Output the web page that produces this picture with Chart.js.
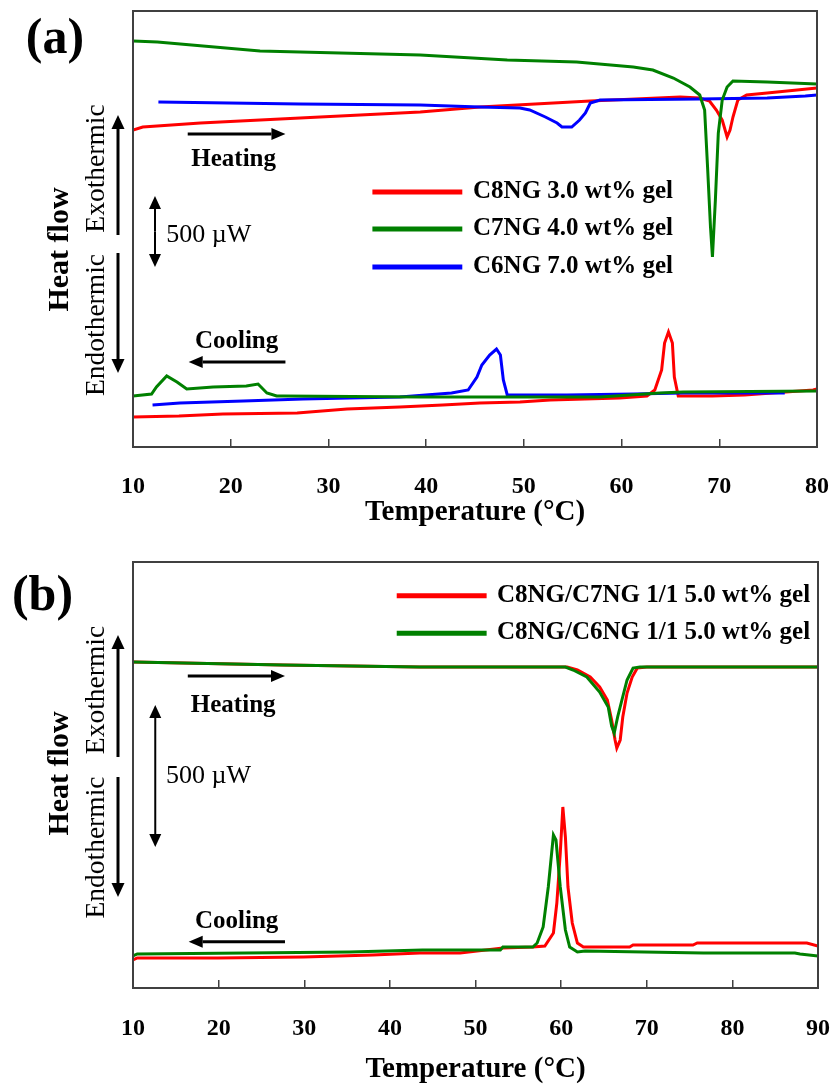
<!DOCTYPE html>
<html>
<head>
<meta charset="utf-8">
<script src="https://cdn.jsdelivr.net/npm/chart.js@4/dist/chart.umd.min.js"></script>
<style>
    body { margin: 0; background: #fff; }
    .panel { position: absolute; left: 0; width: 833px; }
    #wrap-a { top: 0; height: 548px; }
    #wrap-b { top: 548px; height: 539px; }
</style>
</head>
<body>
<div class="panel" id="wrap-a"><canvas id="chart-a"></canvas></div>
<div class="panel" id="wrap-b"><canvas id="chart-b"></canvas></div>
<script>
// --- 데이터 (그림에서 읽은 값, 열류는 임의 단위) ---
// (a) 단일 겔
const tempTicksA = [10, 20, 30, 40, 50, 60, 70, 80];
const labelsA = ["C8NG 3.0 wt% gel", "C7NG 4.0 wt% gel", "C6NG 7.0 wt% gel"];

const c8HeatT = [10, 11, 16.9, 27.1, 39.4, 45.5, 56.8, 66.0, 68.0, 69.0, 69.7, 70.3, 70.8, 71.1, 71.4, 71.9, 72.8, 74.9, 80];
const c8HeatQ = [317, 320, 324, 329, 335, 340, 346, 350, 349, 346, 337, 327, 310, 317, 330, 347, 352, 354, 359];
const c8CoolT = [80, 79.6, 72.6, 69.3, 65.8, 65.4, 65.2, 64.8, 64.4, 64.1, 63.4, 62.6, 59.8, 52.7, 49.6, 45.5, 41.7, 37.3, 31.9, 26.8, 19.2, 14.7, 10];
const c8CoolQ = [58, 57, 52, 51, 51, 70, 104, 115, 104, 77, 57, 51, 49, 47, 45, 44, 42, 40, 38, 34, 33, 31, 30];

const c7HeatT = [10, 12.5, 23.0, 39.4, 48.3, 55.4, 61.2, 63.2, 65.3, 67.0, 68.0, 68.5, 68.8, 69.1, 69.3, 69.6, 69.9, 70.3, 70.8, 71.4, 74.9, 80];
const c7HeatQ = [406, 405, 396, 392, 387, 385, 380, 377, 369, 360, 352, 337, 280, 220, 190, 247, 314, 347, 360, 366, 365, 363];
const c7CoolT = [80, 66.3, 63.9, 57.8, 39.4, 25.4, 24.7, 23.7, 22.8, 21.6, 18.2, 15.5, 14.5, 13.45, 12.4, 11.9, 10];
const c7CoolQ = [56, 55, 54, 50, 50, 51, 51, 54, 63, 61, 60, 58, 65, 71, 60, 53, 51];

const c6HeatT = [12.6, 27.1, 39.4, 45.5, 49.6, 50.6, 52.2, 53.4, 53.9, 54.9, 55.7, 56.3, 56.8, 57.8, 68.0, 74.9, 78.8, 80];
const c6HeatQ = [345, 343, 342, 340, 339, 337, 330, 324, 320, 320, 327, 334, 344, 347, 348, 349, 351, 352];
const c6CoolT = [76.7, 66.3, 61.2, 54.4, 48.3, 47.9, 47.6, 47.2, 46.5, 45.7, 45.2, 44.3, 42.6, 37.3, 32.2, 27.4, 21.3, 14.8, 12.0];
const c6CoolQ = [54, 54, 53, 52, 52, 67, 92, 98, 92, 82, 70, 57, 54, 50, 49, 48, 46, 44, 42];

// (b) 혼합 겔
const tempTicksB = [10, 20, 30, 40, 50, 60, 70, 80, 90];
const labelsB = ["C8NG/C7NG 1/1 5.0 wt% gel", "C8NG/C6NG 1/1 5.0 wt% gel"];

const mix7HeatT = [10, 27.5, 43.5, 60.7, 61.9, 63.4, 64.5, 65.4, 65.9, 66.3, 66.5, 66.9, 67.2, 67.7, 68.3, 68.9, 70.0, 90];
const mix7HeatQ = [326, 323, 321, 321, 318, 311, 301, 288, 268, 248, 240, 248, 271, 295, 311, 320, 321, 321];
const mix7CoolT = [90, 88.7, 75.9, 75.4, 68.4, 68.0, 62.6, 61.9, 61.3, 60.8, 60.5, 60.2, 59.9, 59.5, 59.1, 58.1, 56.7, 53.2, 48.2, 43.5, 38.0, 29.9, 19.9, 10.5, 10];
const mix7CoolQ = [42, 45, 45, 43, 43, 41, 41, 45, 65, 101, 151, 181, 135, 85, 55, 42, 41, 40, 35, 35, 33, 31, 30, 30, 28];

const mix6HeatT = [10, 27.5, 43.5, 60.5, 61.4, 63.0, 64.5, 65.5, 65.9, 66.2, 66.6, 67.1, 67.7, 68.4, 69.2, 90];
const mix6HeatQ = [326, 323, 321, 321, 318, 311, 296, 281, 262, 255, 271, 288, 308, 320, 321, 321];
const mix6CoolT = [90, 87.9, 87.3, 76.6, 62.8, 61.9, 61.0, 60.5, 59.9, 59.4, 59.1, 58.5, 57.9, 57.2, 56.7, 53.2, 52.9, 43.8, 35.3, 23.2, 10.5, 10];
const mix6CoolQ = [32, 34, 35, 35, 37, 36, 41, 58, 101, 148, 153, 101, 61, 45, 41, 41, 38, 38, 36, 35, 34, 32];

// --- 공통 설정 ---
const SERIF = "'Liberation Serif', 'Times New Roman', serif";
const RED = "rgb(255, 0, 0)";
const GREEN = "rgb(0, 128, 0)";
const BLUE = "rgb(0, 0, 255)";

Chart.defaults.font.family = SERIF;
Chart.defaults.color = "#000";

// 온도/열류 배열 -> {x, y} 점 배열
function curve(ts, qs) {
    return ts.map((t, i) => ({ x: t, y: qs[i] }));
}

function line(label, color, ts, qs, order, inLegend) {
    return {
        label: label,
        data: curve(ts, qs),
        borderColor: color,
        backgroundColor: color,
        borderWidth: 3,
        pointRadius: 0,
        tension: 0,
        fill: false,
        order: order,
        inLegend: inLegend
    };
}

// 화살표 (끝점에 삼각형 머리)
function arrow(ctx, x1, y1, x2, y2, w, head, half) {
    const a = Math.atan2(y2 - y1, x2 - x1);
    const bx = x2 - head * Math.cos(a);
    const by = y2 - head * Math.sin(a);
    ctx.lineWidth = w;
    ctx.beginPath();
    ctx.moveTo(x1, y1);
    ctx.lineTo(bx, by);
    ctx.stroke();
    ctx.beginPath();
    ctx.moveTo(x2, y2);
    ctx.lineTo(bx + half * Math.sin(a), by - half * Math.cos(a));
    ctx.lineTo(bx - half * Math.sin(a), by + half * Math.cos(a));
    ctx.closePath();
    ctx.fill();
}

function vText(ctx, text, x, y, font) {
    ctx.save();
    ctx.translate(x, y);
    ctx.rotate(-Math.PI / 2);
    ctx.font = font;
    ctx.textAlign = "center";
    ctx.textBaseline = "alphabetic";
    ctx.fillText(text, 0, 0);
    ctx.restore();
}

// 테두리, 범례, 주석을 그리는 플러그인
const dscNotes = {
    id: "dscNotes",
    afterDraw(chart, args, opts) {
        const { ctx, chartArea } = chart;
        const sx = chart.scales.x;
        const sy = chart.scales.y;
        const px = t => sx.getPixelForValue(t);
        const py = q => sy.getPixelForValue(q);

        ctx.save();
        ctx.fillStyle = "#000";

        // 그래프 테두리
        ctx.strokeStyle = "#404040";
        ctx.lineWidth = 2;
        ctx.strokeRect(chartArea.left, chartArea.top, chartArea.width, chartArea.height);
        ctx.strokeStyle = "#000";

        // 왼쪽 바깥 글자들
        const s = opts.side;
        ctx.font = "bold 50px " + SERIF;
        ctx.textAlign = "center";
        ctx.textBaseline = "alphabetic";
        ctx.fillText(s.tag, s.tagX, s.tagY);
        vText(ctx, "Heat flow", 68, s.heatY, "bold 30px " + SERIF);
        vText(ctx, "Exothermic", 104, s.exoY, "27.5px " + SERIF);
        vText(ctx, "Endothermic", 104, s.endoY, "27.5px " + SERIF);
        arrow(ctx, 118, s.up[0], 118, s.up[1], 3, 14, 6.5);
        arrow(ctx, 118, s.down[0], 118, s.down[1], 3, 14, 6.5);

        // Heating / Cooling
        const n = opts.notes;
        ctx.font = "bold 25px " + SERIF;
        ctx.textAlign = "center";
        ctx.fillText("Heating", px(n.heatText[0]), py(n.heatText[1]));
        ctx.fillText("Cooling", px(n.coolText[0]), py(n.coolText[1]));
        arrow(ctx, px(n.heatArrow[0]), py(n.heatArrow[2]), px(n.heatArrow[1]), py(n.heatArrow[2]), 3, 14, 6);
        arrow(ctx, px(n.coolArrow[0]), py(n.coolArrow[2]), px(n.coolArrow[1]), py(n.coolArrow[2]), 3, 14, 6);

        // 500 µW 눈금 화살표
        const mx = px(n.scaleBar[0]);
        const mid = (py(n.scaleBar[1]) + py(n.scaleBar[2])) / 2;
        arrow(ctx, mx, mid, mx, py(n.scaleBar[2]), 2, 13, 6);
        arrow(ctx, mx, mid, mx, py(n.scaleBar[1]), 2, 13, 6);
        ctx.font = "26px " + SERIF;
        ctx.textAlign = "left";
        ctx.fillText("500 \u00b5W", px(n.scaleText[0]), py(n.scaleText[1]));

        // 범례
        const lg = opts.legend;
        const items = chart.data.datasets.filter(d => d.inLegend);
        ctx.font = "bold 25px " + SERIF;
        ctx.textAlign = "left";
        items.forEach((d, i) => {
            const yy = py(lg.rows[i]);
            ctx.strokeStyle = d.borderColor;
            ctx.lineWidth = 5;
            ctx.beginPath();
            ctx.moveTo(px(lg.from), yy);
            ctx.lineTo(px(lg.to), yy);
            ctx.stroke();
            ctx.fillText(d.label, px(lg.text), yy + 6);
        });

        ctx.restore();
    }
};

function makePanel(id, cfg) {
    new Chart(document.getElementById(id), {
        type: "line",
        data: { datasets: cfg.datasets },
        options: {
            responsive: true,
            maintainAspectRatio: false,
            devicePixelRatio: 1,
            animation: false,
            events: [],
            layout: { padding: cfg.padding },
            scales: {
                x: {
                    type: "linear",
                    min: cfg.ticks[0],
                    max: cfg.ticks[cfg.ticks.length - 1],
                    afterBuildTicks: scale => {
                        scale.ticks = cfg.ticks.map(v => ({ value: v }));
                    },
                    afterFit: scale => {
                        scale.height = cfg.axisHeight;
                        // 라벨 여백 때문에 그래프 영역이 줄지 않도록
                        scale.paddingLeft = 0;
                        scale.paddingRight = 0;
                    },
                    ticks: {
                        font: { size: 24, weight: "bold" },
                        color: "#000",
                        padding: cfg.tickPad,
                        maxRotation: 0,
                        autoSkip: false
                    },
                    grid: {
                        drawOnChartArea: false,
                        drawTicks: true,
                        tickLength: -8,
                        color: "#404040",
                        lineWidth: 1.5
                    },
                    border: { display: false },
                    title: {
                        display: true,
                        text: "Temperature (\u00b0C)",
                        font: { size: 29, weight: "bold" },
                        color: "#000",
                        padding: { top: 0, bottom: cfg.titlePad }
                    }
                },
                y: { type: "linear", min: 0, max: cfg.yMax, display: false }
            },
            plugins: {
                legend: { display: false },
                tooltip: { enabled: false },
                dscNotes: cfg.notes
            }
        },
        plugins: [dscNotes]
    });
}

// (a) 그래프
makePanel("chart-a", {
    ticks: tempTicksA,
    yMax: 436,
    padding: { left: 133, right: 16, top: 11, bottom: 0 },
    axisHeight: 101,
    tickPad: 33,
    titlePad: 18,
    datasets: [
        line(labelsA[0], RED, c8HeatT, c8HeatQ, 2, true),
        line(labelsA[1], GREEN, c7HeatT, c7HeatQ, 0, true),
        line(labelsA[2], BLUE, c6HeatT, c6HeatQ, 1, true),
        line(labelsA[0], RED, c8CoolT, c8CoolQ, 2, false),
        line(labelsA[1], GREEN, c7CoolT, c7CoolQ, 0, false),
        line(labelsA[2], BLUE, c6CoolT, c6CoolQ, 1, false)
    ],
    notes: {
        side: { tag: "(a)", tagX: 55, tagY: 53, heatY: 249.5, exoY: 168.5, endoY: 325, up: [235, 115], down: [253, 373] },
        notes: {
            heatText: [20.3, 281], heatArrow: [15.6, 25.6, 313],
            coolText: [20.6, 99], coolArrow: [25.6, 15.7, 85],
            scaleBar: [12.25, 180, 251], scaleText: [13.4, 205]
        },
        legend: { from: 34.5, to: 43.7, text: 44.8, rows: [255, 218, 180] }
    }
});

// (b) 그래프
makePanel("chart-b", {
    ticks: tempTicksB,
    yMax: 426,
    padding: { left: 133, right: 15, top: 14, bottom: 0 },
    axisHeight: 99,
    tickPad: 34,
    titlePad: 0,
    datasets: [
        line(labelsB[0], RED, mix7HeatT, mix7HeatQ, 1, true),
        line(labelsB[1], GREEN, mix6HeatT, mix6HeatQ, 0, true),
        line(labelsB[0], RED, mix7CoolT, mix7CoolQ, 1, false),
        line(labelsB[1], GREEN, mix6CoolT, mix6CoolQ, 0, false)
    ],
    notes: {
        side: { tag: "(b)", tagX: 42.5, tagY: 62, heatY: 225.5, exoY: 142, endoY: 299.5, up: [209, 87], down: [229, 349] },
        notes: {
            heatText: [21.7, 276.3], heatArrow: [16.4, 27.75, 312],
            coolText: [22.1, 59.7], coolArrow: [27.75, 16.5, 46.3],
            scaleBar: [12.6, 141, 283], scaleText: [13.85, 205.3]
        },
        legend: { from: 40.8, to: 51.3, text: 52.5, rows: [392.3, 354.7] }
    }
});
</script>
</body>
</html>
